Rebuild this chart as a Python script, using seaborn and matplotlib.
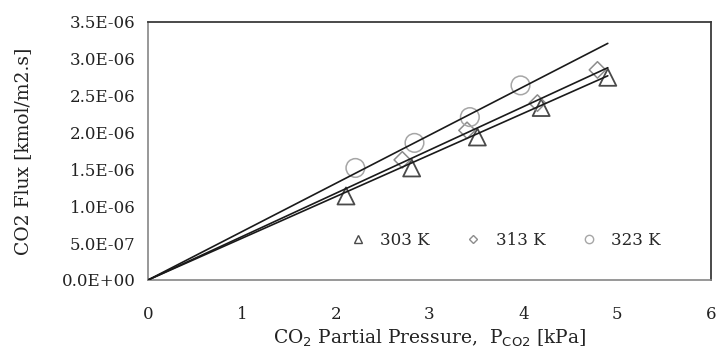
import matplotlib
matplotlib.use("Agg")
import matplotlib.pyplot as plt
from matplotlib.lines import Line2D
import seaborn as sns
import pandas as pd

# Data
p303 = [2.11, 2.81, 3.51, 4.19, 4.90]
f303 = [1.14e-6, 1.52e-6, 1.94e-6, 2.34e-6, 2.75e-6]
p313 = [2.71, 3.40, 4.15, 4.79]
f313 = [1.63e-6, 2.03e-6, 2.40e-6, 2.85e-6]
p323 = [2.21, 2.84, 3.43, 3.97]
f323 = [1.52e-6, 1.86e-6, 2.21e-6, 2.64e-6]

# Trend line endpoints (through origin)
line_x = [0.0, 4.9]
line303 = [0.0, 2.77e-6]
line313 = [0.0, 2.88e-6]
line323 = [0.0, 3.21e-6]

labels = ["303 K", "313 K", "323 K"]
xticks = [0, 1, 2, 3, 4, 5, 6]
yticks = [0, 5e-7, 1e-6, 1.5e-6, 2e-6, 2.5e-6, 3e-6, 3.5e-6]
ytick_labels = ["0.0E+00", "5.0E-07", "1.0E-06", "1.5E-06", "2.0E-06",
                "2.5E-06", "3.0E-06", "3.5E-06"]

sns.set_style("white")
plt.rcParams['font.family'] = ['DejaVu Serif']

fig = plt.figure(figsize=(7.17, 3.51), dpi=100)
ax = fig.add_axes([148/717, 71/351, 563/717, 258/351])

c303, c313, c323 = "#4a4a4a", "#8c8c8c", "#a6a6a6"

for lx, ly in [(line_x, line303), (line_x, line313), (line_x, line323)]:
    sns.lineplot(x=lx, y=ly, ax=ax, color="#1a1a1a", linewidth=1.2, zorder=3)

sns.scatterplot(x=p303, y=f303, ax=ax, marker="^", s=150, facecolor="none",
                edgecolor=c303, linewidth=1.3, zorder=2)
sns.scatterplot(x=p313, y=f313, ax=ax, marker="D", s=70, facecolor="none",
                edgecolor=c313, linewidth=1.1, zorder=2)
sns.scatterplot(x=p323, y=f323, ax=ax, marker="o", s=180, facecolor="none",
                edgecolor=c323, linewidth=1.1, zorder=2)

ax.set_xlim(0, 6)
ax.set_ylim(0, 3.5e-6)
ax.set_xticks(xticks)
ax.set_xticklabels([str(t) for t in xticks], fontsize=12)
ax.set_yticks(yticks)
ax.set_yticklabels(ytick_labels, fontsize=12)
ax.tick_params(axis="x", direction="out", length=5, width=1, color="#868686",
               pad=14, labelcolor="#222222")
ax.tick_params(axis="y", direction="out", length=5, width=1, color="#868686",
               pad=4, labelcolor="#222222")

for s in ["left", "bottom"]:
    ax.spines[s].set_color("#868686")
    ax.spines[s].set_linewidth(1.2)
for s in ["top", "right"]:
    ax.spines[s].set_color("#3a3a3a")
    ax.spines[s].set_linewidth(1.3)

ax.set_xlabel(r"CO$_2$ Partial Pressure,  P$_{\mathrm{CO2}}$ [kPa]", fontsize=13.5,
              color="#222222", labelpad=3)
ax.set_ylabel("CO2 Flux [kmol/m2.s]", fontsize=13.5, color="#222222", labelpad=21)

handles = [
    Line2D([], [], marker="^", linestyle="none", markersize=6, markerfacecolor="none",
           markeredgecolor=c303),
    Line2D([], [], marker="D", linestyle="none", markersize=4.5, markerfacecolor="none",
           markeredgecolor=c313),
    Line2D([], [], marker="o", linestyle="none", markersize=6, markerfacecolor="none",
           markeredgecolor=c323),
]
ax.legend(handles, labels, loc="center", bbox_to_anchor=(0.634, 0.155), ncol=3,
          frameon=False, fontsize=12, handlelength=1.0, handletextpad=0.85,
          columnspacing=2.1)

fig.savefig("out.png", dpi=100)
